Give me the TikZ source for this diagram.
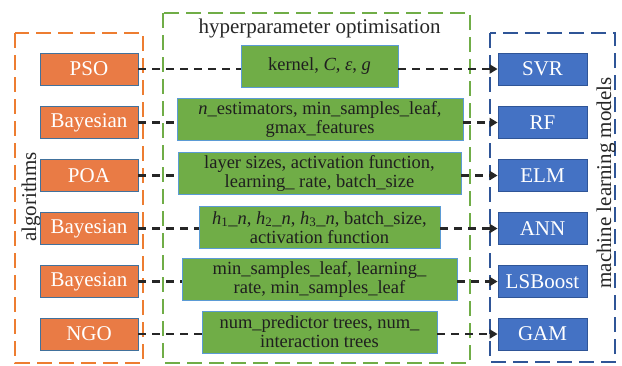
\documentclass[tikz,border=0pt]{standalone}
\usepackage{fontspec}
\setmainfont{Liberation Serif}
\usetikzlibrary{arrows.meta}
\definecolor{orfill}{HTML}{E97B45}
\definecolor{orline}{HTML}{41719C}
\definecolor{grfill}{HTML}{70AD47}
\definecolor{grline}{HTML}{5B9BD5}
\definecolor{blfill}{HTML}{4472C4}
\definecolor{blline}{HTML}{2F5597}
\definecolor{orcont}{HTML}{ED7D31}
\definecolor{grcont}{HTML}{70AD47}
\definecolor{blcont}{HTML}{2F5597}
\definecolor{conn}{HTML}{262626}
\tikzset{
  algbox/.style={draw=orline, line width=0.8pt, fill=orfill, text=white, minimum width=98pt, minimum height=32pt, inner sep=0pt, font=\fontsize{21}{21}\selectfont},
  mlbox/.style={draw=blline, line width=0.8pt, fill=blfill, text=white, minimum width=89pt, minimum height=32pt, inner sep=0pt, font=\fontsize{21}{21}\selectfont},
  hpbox/.style={draw=grline, line width=0.8pt, fill=grfill, text=black!88, minimum height=42pt, inner sep=0pt, align=center, font=\fontsize{18.5}{19}\selectfont},
  container/.style={line width=1.8pt, dash pattern=on 15pt off 7pt},
  link/.style={draw=conn, line width=2.2pt, dash pattern=on 8pt off 6pt},
  linkarrow/.style={link, -{Triangle[length=8pt,width=9pt]}},
  lbl/.style={font=\fontsize{21}{21}\selectfont, text=black!85, inner sep=0pt}
}
\begin{document}
\begin{tikzpicture}[x=1pt,y=-1pt]
\useasboundingbox (0,0) rectangle (622,365);
% containers
\draw[container, draw=orcont] (15,33) rectangle (143,363);
\draw[container, draw=grcont] (163,13) rectangle (470,363);
\draw[container, draw=blcont] (490,33) rectangle (615,362);
% labels
\node[lbl, anchor=base] (title) at (319.5,33) {hyperparameter optimisation};
\node[lbl, rotate=90] (alg) at (31,197) {algorithms};
\node[lbl, rotate=90] (ml) at (606,183) {machine learning models};
% algorithms
\node[algbox] (o1) at (89,69) {PSO};
\node[algbox] (o2) at (89,122.5) {Bayesian};
\node[algbox] (o3) at (89,175.5) {POA};
\node[algbox] (o4) at (89,228.5) {Bayesian};
\node[algbox] (o5) at (89,281.5) {Bayesian};
\node[algbox] (o6) at (89,334) {NGO};
% models
\node[mlbox] (b1) at (542.5,69) {SVR};
\node[mlbox] (b2) at (542.5,122.5) {RF};
\node[mlbox] (b3) at (542.5,175.5) {ELM};
\node[mlbox] (b4) at (542.5,228.5) {ANN};
\node[mlbox] (b5) at (542.5,281.5) {LSBoost};
\node[mlbox] (b6) at (542.5,334) {GAM};
% hyperparameters
\node[hpbox, minimum width=157pt] (g1) at (319.5,66) {kernel, \textit{C}, \textit{ε}, \textit{g}};
\node[hpbox, minimum width=286pt] (g2) at (320,119) {\textit{n}\_estimators, min\_samples\_leaf,\\gmax\_features};
\node[hpbox, minimum width=283pt] (g3) at (319.5,173.5) {layer sizes, activation function,\\learning\_ rate, batch\_size};
\node[hpbox, minimum width=241pt] (g4) at (319.5,227.5) {\textit{h}\textsubscript{1}\_\textit{n}, \textit{h}\textsubscript{2}\_\textit{n}, \textit{h}\textsubscript{3}\_\textit{n}, batch\_size,\\activation function};
\node[hpbox, minimum width=275pt] (g5) at (319.5,279.5) {min\_samples\_leaf, learning\_\\rate, min\_samples\_leaf};
\node[hpbox, minimum width=235pt] (g6) at (319.5,332) {num\_predictor trees, num\_\\interaction trees};
% connectors
\foreach \i in {1,...,6}{
  \draw[link] (o\i.east) -- (o\i.east -| g\i.west);
  \draw[linkarrow] (g\i.east |- o\i.east) -- (b\i.west);
}
\end{tikzpicture}
\end{document}
